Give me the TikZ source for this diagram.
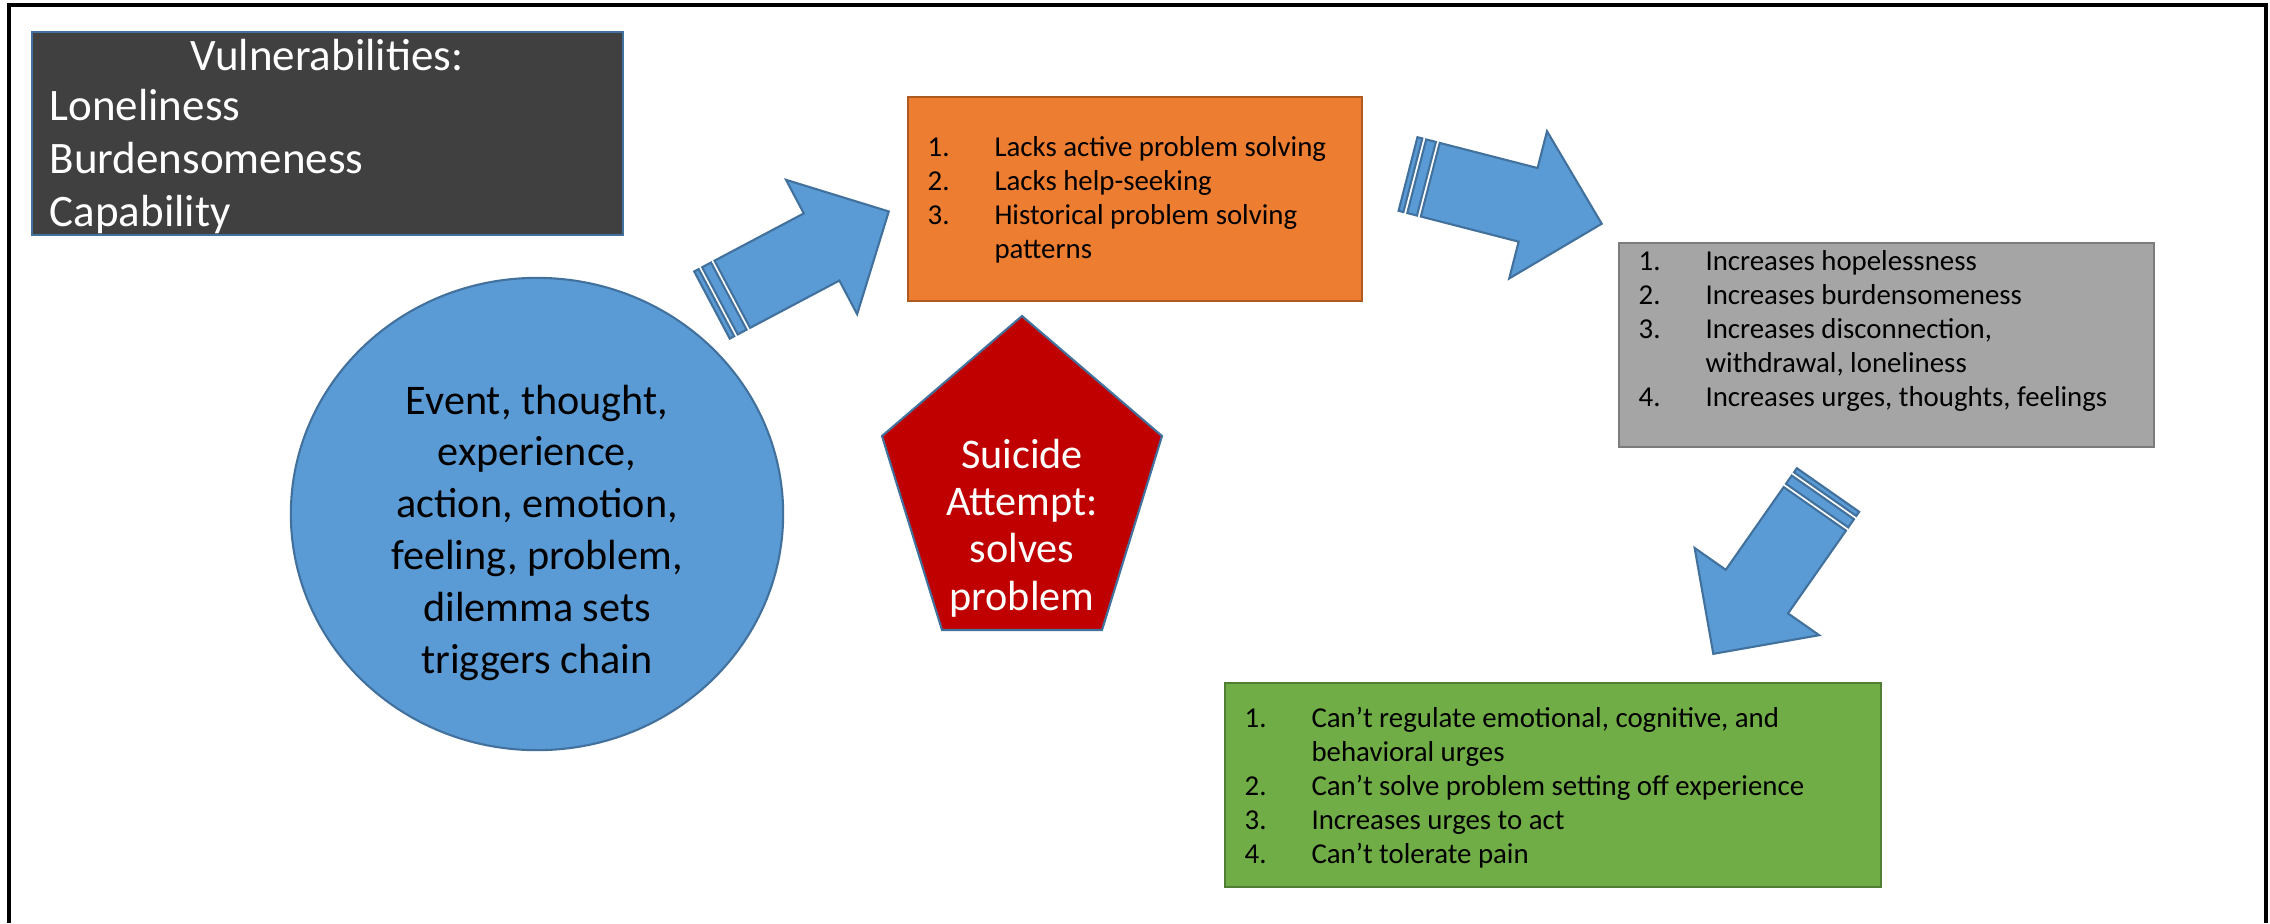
\documentclass[tikz,border=0pt]{standalone}
\usepackage{fontspec}
\setmainfont{Carlito}
\usepackage{tikz}
\usetikzlibrary{positioning, shapes.geometric, calc}
\definecolor{blockfill}{HTML}{5B9BD5}
\definecolor{blockedge}{HTML}{41719C}
\definecolor{orangefill}{HTML}{ED7D31}
\definecolor{orangeedge}{HTML}{AE5A21}
\definecolor{grayfill}{HTML}{A5A5A5}
\definecolor{grayedge}{HTML}{7C7C7C}
\definecolor{greenfill}{HTML}{70AD47}
\definecolor{greenedge}{HTML}{507E32}
\definecolor{darkfill}{HTML}{404040}
\definecolor{redfill}{HTML}{C00000}
\tikzset{
  box/.style      = {rectangle, line width=0.6pt, inner sep=0pt},
  arrowpart/.style= {fill=blockfill, draw=blockedge, line width=0.6pt, line join=miter},
  listtxt/.style  = {anchor=base west, inner sep=0pt,
                     font=\fontsize{8.2}{9.7}\selectfont},
  bigtxt/.style   = {anchor=base, inner sep=0pt, align=center,
                     font=\fontsize{12}{14.75}\selectfont},
  stripearrow/.pic= {
    \path[arrowpart] (0,-38) -- (5,-38) -- (5,38) -- (0,38) -- cycle;
    \path[arrowpart] (9,-38) -- (19,-38) -- (19,38) -- (9,38) -- cycle;
    \path[arrowpart] (23,-38) -- (124,-38) -- (124,-76) -- (200,0)
                     -- (124,76) -- (124,38) -- (23,38) -- cycle;
  },
}
\newcommand{\numlist}[1]{\begin{tabular}[t]{@{}p{19pt}@{}l@{}}#1\end{tabular}}

\begin{document}
\begin{tikzpicture}[x=0.01cm, y=-0.01cm]

  \useasboundingbox (0,0) rectangle (2270,923);
  \draw[line width=0.9pt] (9,923) -- (9,5) -- (2266,5) -- (2266,923);

  % vulnerabilities
  \node[box, fill=darkfill, draw=blockedge, minimum width=5.91cm,
        minimum height=2.03cm] (vul) at (327.5,133.5) {};
  \node[bigtxt, text=white, font=\fontsize{12.8}{15.2}\selectfont] (vulhead) at (327,70) {Vulnerabilities:};
  \node[anchor=base west, inner sep=0pt, text=white,
        font=\fontsize{12.8}{15.2}\selectfont] (vullist) at (49,120)
        {\begin{tabular}[t]{@{}l@{}}Loneliness\\Burdensomeness\\Capability\end{tabular}};

  % trigger
  \node[ellipse, fill=blockfill, draw=blockedge, line width=0.6pt,
        minimum width=4.92cm, minimum height=4.72cm, inner sep=0pt] (trig) at (537,514) {};
  \node[bigtxt] (trigtxt) at (537,414)
        {\begin{tabular}[t]{@{}c@{}}Event, thought,\\experience,\\action, emotion,\\feeling, problem,\\dilemma sets\\triggers chain\end{tabular}};

  % problem solving
  \node[box, fill=orangefill, draw=orangeedge, minimum width=4.54cm,
        minimum height=2.04cm] (lack) at (1135,199) {};
  \node[listtxt] (lacktxt) at (927,156)
        {\numlist{1. & Lacks active problem solving\\
                  2. & Lacks help-seeking\\
                  3. & Historical problem solving\\
                     & patterns}};

  % attempt
  \filldraw[fill=redfill, draw=blockedge, line width=0.6pt, line join=miter]
    (1022,316) -- (1162,436) -- (1102,630) -- (942,630) -- (882,436) -- cycle;
  \node[bigtxt, text=white, font=\fontsize{12}{13.5}\selectfont] (sa) at (1022,468)
        {\begin{tabular}[t]{@{}c@{}}Suicide\\Attempt:\\solves\\problem\end{tabular}};

  % increases
  \node[box, fill=grayfill, draw=grayedge, minimum width=5.35cm,
        minimum height=2.04cm] (incr) at (1886.5,345) {};
  \node[listtxt] (incrtxt) at (1638,270)
        {\numlist{1. & Increases hopelessness\\
                  2. & Increases burdensomeness\\
                  3. & Increases disconnection,\\
                     & withdrawal, loneliness\\
                  4. & Increases urges, thoughts, feelings}};

  % cannot
  \node[box, fill=greenfill, draw=greenedge, minimum width=6.56cm,
        minimum height=2.04cm] (cant) at (1553,785) {};
  \node[listtxt] (canttxt) at (1244,727)
        {\numlist{1. & Can’t regulate emotional, cognitive, and\\
                     & behavioral urges\\
                  2. & Can’t solve problem setting off experience\\
                  3. & Increases urges to act\\
                  4. & Can’t tolerate pain}};

  % block arrows
  \pic[rotate=27.9]  at (712,305)  {stripearrow};
  \pic[rotate=-14.4] at (1408,174) {stripearrow};
  \pic[rotate=235]   at (1828,490) {stripearrow};

\end{tikzpicture}
\end{document}
